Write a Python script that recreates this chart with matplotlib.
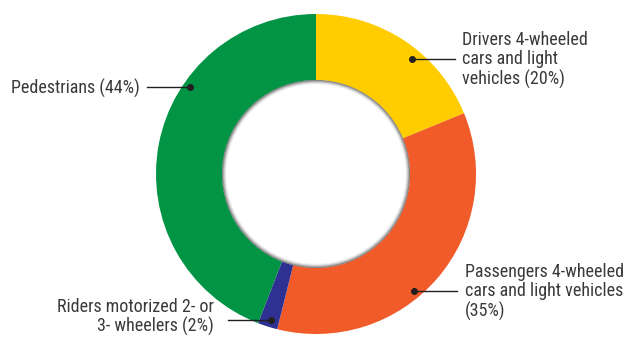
import matplotlib
matplotlib.use('Agg')
import matplotlib.pyplot as plt
from matplotlib.patches import Wedge

# shares (labels show the rounded published numbers)
categories = ['Drivers 4-wheeled\ncars and light\nvehicles (20%)',
              'Passengers 4-wheeled\ncars and light vehicles\n(35%)',
              'Riders motorized 2- or\n3- wheelers (2%)',
              'Pedestrians (44%)']
shares = [18.8, 35.1, 2.0, 44.1]
colors = ['#FFCC00', '#F15A29', '#2E3192', '#009444']

W, H = 630, 338
cx, cy = 316, H - 174
r_out, r_in = 160, 94

plt.rcParams['font.family'] = ['Roboto Condensed', 'Open Sans Condensed',
                               'Noto Sans Condensed', 'Liberation Sans Narrow',
                               'Liberation Sans', 'DejaVu Sans']
plt.rcParams['font.stretch'] = 'condensed'

fig = plt.figure(figsize=(W / 100, H / 100), dpi=100)
ax = fig.add_axes([0, 0, 1, 1])
ax.pie(shares, colors=colors, radius=r_out, center=(cx, cy), startangle=90,
       counterclock=False, wedgeprops=dict(width=r_out - r_in, linewidth=0))

# soft inner shadow round the hole
n = 7
for k in range(n):
    ax.add_patch(Wedge((cx, cy), r_in - k * 0.7, 0, 360, width=0.8,
                       color='black', alpha=0.5 * (1 - k / n) ** 2, lw=0))

# label layout: dot (px), line end (px), text anchor (px), alignment
layout = [
    ((412, 59), (455, 59), (462, 60), 'left'),
    ((414, 291), (457, 291), (465, 292), 'left'),
    ((271, 320), (228, 320), (214, 317), 'right'),
    ((190, 87), (147, 87), (140, 88), 'right'),
]
for label, (dot, end, txt, ha) in zip(categories, layout):
    ax.plot([dot[0], end[0]], [H - dot[1], H - end[1]], color='#231F20', lw=1)
    ax.plot(dot[0], H - dot[1], 'o', color='#231F20', ms=4)
    ax.text(txt[0], H - txt[1], label, ha=ha, va='center', fontsize=13,
            color='#3A3A3A', linespacing=1.12, multialignment=ha)

ax.set_xlim(0, W)
ax.set_ylim(0, H)
ax.set_aspect('equal')
ax.axis('off')
fig.savefig('out.png', dpi=100)
